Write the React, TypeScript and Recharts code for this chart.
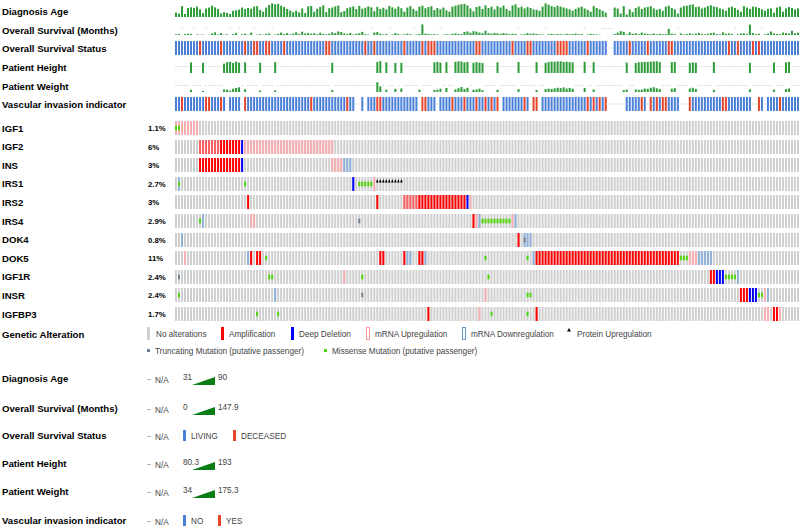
import { BarChart, Bar, XAxis, YAxis } from "recharts";

// one column per sample, left to right as in the oncoprint
const SAMPLE_COUNT = 208;
const sampleIds = Array.from({ length: SAMPLE_COUNT }, (_, i) => `S${i + 1}`);

const clinicalLabels = [
  "Diagnosis Age",
  "Overall Survival (Months)",
  "Overall Survival Status",
  "Patient Height",
  "Patient Weight",
  "Vascular invasion indicator",
];

// null = N/A
const diagnosisAge = [
  44, 40, 72, 38, 64, 67, 64, 70, 58, 42,
  62, 66, 74, 67, 60, 41, 46, 43, 38, 52,
  54, 57, 66, 59, 64, 61, 70, 72, 56, 48,
  66, 77, 84, 80, 82, 74, 68, 60, 53, 46,
  52, 45, 62, 42, 71, 73, 48, 61, 69, 76,
  46, 63, 66, 71, 75, 46, 51, 63, 67, 71,
  59, 73, 61, 65, 71, 67, 50, 69, 60, 65,
  58, 73, 67, 61, 70, 63, 48, 66, 72, 60,
  52, 70, 74, 63, 68, 72, 55, 64, 58, 66,
  54, 48, 70, 74, 78, 80, 82, 75, 62, 50,
  68, 72, 60, 76, 64, 70, 58, 72, 66, 74,
  60, 52, 75, 80, 66, 70, 62, 68, 64, 58,
  56, 52, 70, 84, 78, 72, 68, 74, 70, 66,
  62, 58, 52, 60, 66, 70, 62, 56, 48, 72,
  64, 58, 52, 44, null, null, 66, 62, 40, 72,
  36, 58, 46, 64, 70, 60, 66, 68, 72, 62,
  56, 60, 52, 70, 74, 64, 58, 40, 66, 72,
  74, 78, 80, 68, 70, 62, 66, 72, 76, 70,
  68, 62, 58, 52, 66, 70, 64, 56, 48, 72,
  66, 60, 70, 68, 64, 58, 52, 60, 62, 44,
  66, 70, 48, 62, 68, 64, 58, 62,
];

const survivalMonths = [
  8, 12, null, 10, 14, 12, null, 6, 4, 5,
  null, 3, 18, 30, 6, 22, 4, 8, null, 10,
  24, null, 8, 16, 4, 26, null, 5, 9, 3,
  12, 18, null, 6, 14, 28, 10, 22, 8, 16,
  30, 12, 38, 18, 24, 14, 20, 10, 26, 12,
  8, 16, 30, 22, 40, 34, 18, 12, 24, 8,
  14, 20, 36, 10, 6, null, 28, 34, 16, 8,
  12, null, 6, 22, 10, 4, 8, 14, 10, null,
  6, 12, 120, 16, 12, 8, 10, 6, null, 4,
  10, 6, 14, 18, 12, 10, 34, 40, 26, 44,
  38, 28, 22, 48, 20, 16, 24, 18, 14, 22,
  16, 10, 14, 12, null, 8, 10, 22, 14, 18,
  12, 8, 6, null, 10, 14, 8, 12, 10, 6,
  14, 8, 12, 16, 10, 12, null, 8, 14, 10,
  6, 4, null, null, null, null, 12, 26, 44, 36,
  8, 30, 14, 20, 10, 28, 16, 12, 10, 18,
  8, 14, 10, 12, 70, 16, 10, null, 18, 6,
  12, 20, 10, 16, 24, 12, 8, 14, 22, 26,
  10, 8, 30, 14, 18, 12, null, 8, 16, 20,
  12, 118, 22, 10, 14, null, 8, 16, 40, 18,
  12, 10, 28, 22, 16, 48, 20, 26,
];

const deceasedSamples = [
  8, 15, 23, 26, 27, 30, 31, 36, 50, 51, 63, 66, 76, 82, 84, 85, 86, 100, 101,
  112, 117, 118, 127, 128, 129, 130, 137, 151, 157, 164, 165, 184, 187, 192, 194,
];
const survivalStatusMissing = [144, 145];

const heightSamples = [
  5, 9, 16, 17, 18, 19, 20, 21, 23, 28, 33, 52, 67, 68, 70, 73, 75, 86, 87, 88,
  90, 93, 94, 95, 96, 97, 99, 100, 101, 102, 107, 114, 120, 123, 124, 125, 126,
  127, 128, 129, 130, 131, 132, 136, 139, 150, 153, 154, 155, 156, 157, 158, 159,
  160, 161, 165, 166, 171, 172, 173, 179, 191, 199, 203, 204,
];
const heightValues = [
  165, 160, 150, 168, 170, 158, 175, 162, 165, 160, 168, 160, 170, 180, 165, 158,
  160, 165, 170, 162, 168, 172, 178, 174, 165, 170, 160, 168, 163, 157, 166, 170,
  168, 160, 170, 175, 172, 176, 178, 170, 173, 168, 165, 172, 166, 162, 158, 166,
  168, 172, 170, 175, 176, 178, 168, 168, 170, 160, 165, 162, 168, 160, 162, 165,
  170,
];

const weightSamples = [
  5, 9, 16, 17, 18, 19, 20, 21, 23, 28, 33, 52, 67, 68, 70, 73, 75, 81, 86, 87,
  88, 90, 93, 94, 95, 96, 97, 99, 100, 101, 102, 107, 114, 120, 123, 124, 125,
  126, 127, 128, 129, 130, 131, 132, 136, 139, 149, 150, 153, 154, 155, 156, 157,
  158, 159, 160, 161, 165, 166, 171, 172, 173, 179, 191, 199, 203, 204,
];
const weightValues = [
  58, 45, 62, 60, 48, 70, 78, 85, 64, 50, 52, 55, 140, 95, 60, 68, 72, 60, 56, 60,
  70, 78, 62, 75, 88, 66, 80, 58, 62, 70, 54, 58, 65, 55, 66, 70, 68, 74, 80, 76,
  84, 72, 78, 70, 78, 62, 55, 60, 62, 58, 60, 72, 68, 80, 86, 74, 66, 70, 76, 72,
  80, 68, 58, 64, 60, 66, 72,
];

const vascularYes = [
  2, 10, 11, 15, 23, 45, 57, 67, 68, 82, 83, 92, 96, 100, 103, 105, 107, 116, 119,
  120, 137, 139, 141, 143, 155, 158, 160, 162, 163, 171, 182, 183, 194, 201,
];
const vascularMissing = [
  17, 22, 60, 61, 63, 81, 87, 108, 118, 121, 144, 145, 146, 147, 148, 149, 157,
  168, 169, 170, 192, 193, 196,
];

// genetic alterations: [first sample, last sample, codes]
// A amp, a amp+mRNA up, D deep deletion, U mRNA up, W mRNA down,
// M missense, T truncating, P protein up
const genes = ["IGF1", "IGF2", "INS", "IRS1", "IRS2", "IRS4", "DOK4", "DOK5", "IGF1R", "INSR", "IGFBP3"];
const alteredPct = ["1.1%", "6%", "3%", "2.7%", "3%", "2.9%", "0.8%", "11%", "2.4%", "2.4%", "1.7%"];

const igf1Events = [[0, 7, "U"], [0, 1, "M"]];
const igf2Events = [[8, 14, "a"], [15, 21, "A"], [22, 22, "D"], [23, 52, "U"]];
const insEvents = [[8, 21, "A"], [22, 22, "D"], [52, 55, "U"], [56, 58, "W"]];
const irs1Events = [[1, 1, "WM"], [23, 23, "M"], [59, 59, "D"], [61, 65, "M"], [66, 66, "U"], [67, 75, "P"]];
const irs2Events = [[24, 24, "A"], [67, 67, "A"], [76, 80, "a"], [81, 96, "A"], [97, 97, "D"], [98, 98, "U"]];
const irs4Events = [
  [8, 8, "M"], [9, 9, "W"], [25, 26, "U"], [61, 61, "T"], [99, 99, "A"], [100, 100, "U"],
  [101, 101, "W"], [102, 111, "M"], [112, 112, "U"], [113, 113, "W"],
];
const dok4Events = [[2, 2, "W"], [114, 114, "A"], [116, 116, "T"], [116, 118, "W"]];
const dok5Events = [
  [3, 3, "U"], [24, 24, "W"], [25, 25, "A"], [27, 28, "A"], [30, 30, "M"], [68, 69, "A"],
  [76, 76, "A"], [77, 78, "W"], [81, 82, "A"], [83, 83, "W"], [103, 103, "M"], [117, 117, "M"],
  [119, 119, "W"], [120, 167, "A"], [168, 170, "M"], [171, 173, "U"], [174, 178, "W"],
];
const igf1rEvents = [
  [1, 1, "T"], [31, 32, "M"], [56, 56, "U"], [62, 62, "M"], [104, 104, "M"],
  [178, 179, "A"], [180, 182, "D"], [183, 186, "M"], [187, 187, "W"],
];
const insrEvents = [
  [1, 1, "M"], [33, 33, "W"], [62, 62, "T"], [103, 103, "U"], [117, 118, "M"],
  [188, 190, "A"], [191, 193, "D"], [194, 195, "M"], [196, 196, "U"], [197, 197, "W"],
];
const igfbp3Events = [
  [27, 27, "M"], [34, 34, "M"], [84, 84, "A"], [101, 101, "U"], [105, 105, "M"],
  [117, 117, "M"], [120, 120, "A"], [196, 197, "U"], [199, 200, "A"], [201, 201, "U"],
];
const geneEvents = [
  igf1Events, igf2Events, insEvents, irs1Events, irs2Events, irs4Events,
  dok4Events, dok5Events, igf1rEvents, insrEvents, igfbp3Events,
];

const TRACK_LEFT = 175;
const TRACK_W = 625;
const FONT = "'Liberation Sans', Arial, sans-serif";
const LABEL_SIZE = 9.6;
const LEGEND_SIZE = 8.2;

const GREEN = "#2d9b38";
const BLUE = "#4a7fd8";
const ORANGE = "#e6452a";
const GRAY = "#cfcfcf";
const NA_GRAY = "#dcdcdc";
const AMP = "#ff0000";
const DEL = "#0000ff";
const UP = "#f5aeb1";
const DOWN = "#8fb1da";
const MISSENSE = "#4fd40f";
const TRUNC = "#708090";

const clinicalLabelY = [11, 30, 48, 67, 86, 104];
const geneTop = (g: number) => 121 + g * 18.6;
const GENE_H = 14;

function sparseToColumns(samples: number[], values: number[]) {
  return sampleIds.map((_, i) => {
    const k = samples.indexOf(i);
    return k >= 0 ? values[k] : null;
  });
}

function NumericTrack({ top, height, values, domain }: any) {
  const data = sampleIds.map((id, i) => ({ id, raw: values[i], plot: values[i] ?? domain[1] }));
  const shape = (p: any) => {
    const w = Math.max(p.width - 1, 1);
    if (p.payload.raw == null) {
      return <rect x={p.x} y={height / 2 - 0.5} width={w} height={1} fill={NA_GRAY} />;
    }
    return <rect x={p.x} y={p.y} width={w} height={Math.max(p.height, 1)} fill={GREEN} />;
  };
  return (
    <div style={{ position: "absolute", left: TRACK_LEFT, top }}>
      <BarChart width={TRACK_W} height={height} data={data} margin={{ top: 0, right: 0, bottom: 0, left: 0 }} barCategoryGap={0}>
        <XAxis dataKey="id" hide />
        <YAxis hide domain={domain} allowDataOverflow />
        <Bar dataKey="plot" isAnimationActive={false} shape={shape} />
      </BarChart>
    </div>
  );
}

function CategoryTrack({ top, height, redSamples, missing }: any) {
  const data = sampleIds.map((id, i) => ({
    id,
    v: 1,
    cat: missing.includes(i) ? "na" : redSamples.includes(i) ? "red" : "blue",
  }));
  const shape = (p: any) => {
    const w = Math.max(p.width - 1, 1);
    if (p.payload.cat === "na") {
      return <rect x={p.x} y={height / 2 - 0.5} width={w} height={1} fill={NA_GRAY} />;
    }
    return <rect x={p.x} y={p.y} width={w} height={p.height} fill={p.payload.cat === "red" ? ORANGE : BLUE} />;
  };
  return (
    <div style={{ position: "absolute", left: TRACK_LEFT, top }}>
      <BarChart width={TRACK_W} height={height} data={data} margin={{ top: 0, right: 0, bottom: 0, left: 0 }} barCategoryGap={0}>
        <XAxis dataKey="id" hide />
        <YAxis hide domain={[0, 1]} allowDataOverflow />
        <Bar dataKey="v" isAnimationActive={false} shape={shape} />
      </BarChart>
    </div>
  );
}

function GeneTrack({ top, events }: any) {
  const data = sampleIds.map((id, i) => {
    const codes = events
      .filter((e: any) => i >= e[0] && i <= e[1])
      .map((e: any) => e[2])
      .join("");
    return { id, v: 1, codes };
  });
  const shape = (p: any) => {
    const { x, y, height } = p;
    const w = Math.max(p.width - 1, 1);
    const c: string = p.payload.codes;
    return (
      <g>
        <rect x={x} y={y} width={w} height={height} fill={GRAY} />
        {c.includes("U") && <rect x={x} y={y} width={w} height={height} fill={UP} />}
        {c.includes("W") && <rect x={x} y={y} width={w} height={height} fill={DOWN} />}
        {c.includes("a") && <rect x={x} y={y} width={w} height={height} fill={UP} />}
        {c.includes("a") && <rect x={x} y={y} width={w} height={height} fill={AMP} opacity={0.45} />}
        {c.includes("A") && <rect x={x} y={y} width={w} height={height} fill={AMP} />}
        {c.includes("D") && <rect x={x} y={y} width={w} height={height} fill={DEL} />}
        {c.includes("M") && <rect x={x} y={y + height / 3} width={w} height={height / 3} fill={MISSENSE} />}
        {c.includes("T") && <rect x={x} y={y + height / 3} width={w} height={height / 3} fill={TRUNC} />}
        {c.includes("P") && (
          <polygon points={`${x - 0.3},${y + 5.5} ${x + w + 0.3},${y + 5.5} ${x + w / 2},${y + 2}`} fill="#000" />
        )}
      </g>
    );
  };
  return (
    <div style={{ position: "absolute", left: TRACK_LEFT, top }}>
      <BarChart width={TRACK_W} height={GENE_H} data={data} margin={{ top: 0, right: 0, bottom: 0, left: 0 }} barCategoryGap={0}>
        <XAxis dataKey="id" hide />
        <YAxis hide domain={[0, 1]} allowDataOverflow />
        <Bar dataKey="v" isAnimationActive={false} shape={shape} />
      </BarChart>
    </div>
  );
}

function RampLegend({ y, label, min, max }: any) {
  return (
    <g>
      <text x={2} y={y + 3.5} fontWeight="bold" fontSize={LABEL_SIZE} fill="#000">{label}</text>
      <line x1={147} x2={151} y1={y + 1.5} y2={y + 1.5} stroke="#bbb" />
      <text x={155} y={y + 5} fontSize={LEGEND_SIZE} fill="#444">N/A</text>
      <text x={183} y={y + 1.5} fontSize={LEGEND_SIZE} fill="#444">{min}</text>
      <polygon points={`192,${y + 7} 215,${y + 7} 215,${y - 1}`} fill="#0a7d14" />
      <text x={218} y={y + 1.5} fontSize={LEGEND_SIZE} fill="#444">{max}</text>
    </g>
  );
}

function CatLegend({ y, label, items }: any) {
  return (
    <g>
      <text x={2} y={y + 3.5} fontWeight="bold" fontSize={LABEL_SIZE} fill="#000">{label}</text>
      <line x1={147} x2={151} y1={y + 1.5} y2={y + 1.5} stroke="#bbb" />
      <text x={155} y={y + 5} fontSize={LEGEND_SIZE} fill="#444">N/A</text>
      {items.map((it: any) => (
        <g key={it.name}>
          <rect x={it.x} y={y - 5} width={3} height={11} fill={it.color} />
          <text x={it.x + 8} y={y + 3.5} fontSize={LEGEND_SIZE} fill="#444">{it.name}</text>
        </g>
      ))}
    </g>
  );
}

export default function App() {
  const heightCols = sparseToColumns(heightSamples, heightValues);
  const weightCols = sparseToColumns(weightSamples, weightValues);
  return (
    <div style={{ position: "absolute", left: 0, top: 0, width: 800, height: 526, overflow: "hidden", background: "#fff", fontFamily: FONT }}>
      <svg width={800} height={526} style={{ position: "absolute", left: 0, top: 0 }} fontFamily={FONT}>
        {clinicalLabels.map((l, i) => (
          <text key={l} x={2} y={clinicalLabelY[i] + 3.5} fontWeight="bold" fontSize={LABEL_SIZE} fill="#000">{l}</text>
        ))}
        {genes.map((g, i) => (
          <g key={g}>
            <text x={2} y={geneTop(i) + 10.5} fontWeight="bold" fontSize={LABEL_SIZE} fill="#000">{g}</text>
            <text x={148} y={geneTop(i) + 10} fontWeight="bold" fontSize={7.8} fill="#000">{alteredPct[i]}</text>
          </g>
        ))}

        <text x={2} y={337.5} fontWeight="bold" fontSize={LABEL_SIZE} fill="#000">Genetic Alteration</text>
        <rect x={147} y={327} width={3} height={13} fill={GRAY} />
        <text x={156} y={337} fontSize={LEGEND_SIZE} fill="#444">No alterations</text>
        <rect x={221} y={327} width={3} height={13} fill={AMP} />
        <text x={229} y={337} fontSize={LEGEND_SIZE} fill="#444">Amplification</text>
        <rect x={291} y={327} width={3} height={13} fill={DEL} />
        <text x={299} y={337} fontSize={LEGEND_SIZE} fill="#444">Deep Deletion</text>
        <rect x={366.5} y={327.5} width={3} height={12} fill="none" stroke="#ff9999" />
        <text x={375} y={337} fontSize={LEGEND_SIZE} fill="#444">mRNA Upregulation</text>
        <rect x={462.5} y={327.5} width={3} height={12} fill="none" stroke="#6699cc" />
        <text x={471} y={337} fontSize={LEGEND_SIZE} fill="#444">mRNA Downregulation</text>
        <polygon points="567,331.5 571,331.5 569,328" fill="#000" />
        <text x={577} y={337} fontSize={LEGEND_SIZE} fill="#444">Protein Upregulation</text>
        <rect x={147} y={349} width={3} height={3} fill={TRUNC} />
        <text x={155} y={354} fontSize={LEGEND_SIZE} fill="#444">Truncating Mutation (putative passenger)</text>
        <rect x={324} y={349} width={3} height={3} fill={MISSENSE} />
        <text x={332} y={354} fontSize={LEGEND_SIZE} fill="#444">Missense Mutation (putative passenger)</text>

        <RampLegend y={378} label="Diagnosis Age" min="31" max="90" />
        <RampLegend y={408} label="Overall Survival (Months)" min="0" max="147.9" />
        <CatLegend y={435} label="Overall Survival Status" items={[{ name: "LIVING", x: 183, color: BLUE }, { name: "DECEASED", x: 233, color: ORANGE }]} />
        <RampLegend y={463} label="Patient Height" min="80.3" max="193" />
        <RampLegend y={491} label="Patient Weight" min="34" max="175.3" />
        <CatLegend y={520} label="Vascular invasion indicator" items={[{ name: "NO", x: 183, color: BLUE }, { name: "YES", x: 218, color: ORANGE }]} />
      </svg>

      <NumericTrack top={2} height={15} values={diagnosisAge} domain={[25, 90]} />
      <NumericTrack top={22} height={13} values={survivalMonths} domain={[0, 147.9]} />
      <CategoryTrack top={41} height={14} redSamples={deceasedSamples} missing={survivalStatusMissing} />
      <NumericTrack top={60} height={13} values={heightCols} domain={[40, 193]} />
      <NumericTrack top={79} height={13} values={weightCols} domain={[34, 175.3]} />
      <CategoryTrack top={97} height={14} redSamples={vascularYes} missing={vascularMissing} />

      {genes.map((g, i) => (
        <GeneTrack key={g} top={geneTop(i)} events={geneEvents[i]} />
      ))}
    </div>
  );
}
